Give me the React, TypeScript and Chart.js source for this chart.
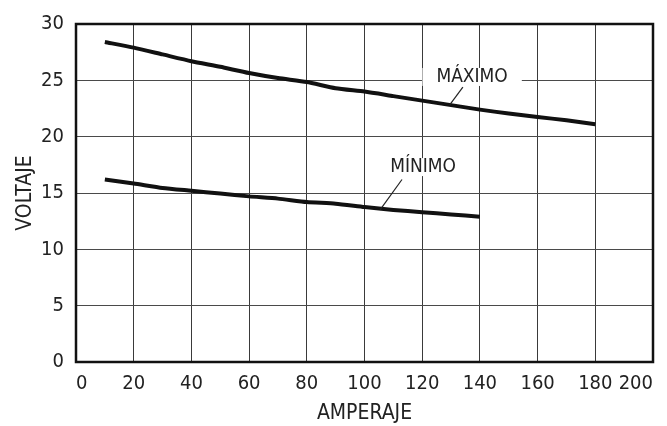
import React, { useEffect, useRef } from "react";
import { Chart, registerables } from "chart.js";

Chart.register(...registerables);

const maxAmps = [10, 20, 30, 40, 50, 60, 70, 80, 90, 100, 110, 120, 130, 140, 150, 160, 170, 180];
const maxVolts = [28.4, 27.9, 27.3, 26.7, 26.2, 25.65, 25.2, 24.85, 24.3, 24.0, 23.6, 23.2, 22.8, 22.4, 22.05, 21.75, 21.45, 21.1];
const minAmps = [10, 20, 30, 40, 50, 60, 70, 80, 90, 100, 110, 120, 130, 140];
const minVolts = [16.2, 15.85, 15.45, 15.2, 14.95, 14.7, 14.5, 14.2, 14.05, 13.75, 13.5, 13.3, 13.1, 12.9];
const xTicks = [0, 20, 40, 60, 80, 100, 120, 140, 160, 180, 200];
const yTicks = [0, 5, 10, 15, 20, 25, 30];

const FONT = "'DejaVu Sans Condensed', 'Liberation Sans', sans-serif";

const callouts = [
  { text: "MÁXIMO", tx: 137.3, ty: 25.3, lx1: 134.1, ly1: 24.4, lx2: 129.6, ly2: 22.85 },
  { text: "MÍNIMO", tx: 120.3, ty: 17.3, lx1: 113, ly1: 16.2, lx2: 105.4, ly2: 13.5 },
];

const calloutPlugin = {
  id: "callouts",
  afterDatasetsDraw(chart: any) {
    const { ctx, scales, chartArea } = chart;
    const xs = scales.x;
    const ys = scales.y;
    ctx.save();
    ctx.font = `19px ${FONT}`;
    ctx.textAlign = "center";
    ctx.textBaseline = "middle";
    for (const c of callouts) {
      const px = xs.getPixelForValue(c.tx);
      const py = ys.getPixelForValue(c.ty);
      const w = ctx.measureText(c.text).width;
      ctx.fillStyle = "#ffffff";
      ctx.fillRect(px - w / 2 - 14, py - 9, w + 28, 18);
      ctx.fillStyle = "#222222";
      ctx.fillText(c.text, px, py);
      ctx.strokeStyle = "#222222";
      ctx.lineWidth = 1.2;
      ctx.beginPath();
      ctx.moveTo(xs.getPixelForValue(c.lx1), ys.getPixelForValue(c.ly1));
      ctx.lineTo(xs.getPixelForValue(c.lx2), ys.getPixelForValue(c.ly2));
      ctx.stroke();
    }
    ctx.strokeStyle = "#111111";
    ctx.lineWidth = 2.5;
    ctx.strokeRect(
      chartArea.left,
      chartArea.top,
      chartArea.right - chartArea.left,
      chartArea.bottom - chartArea.top
    );
    ctx.restore();
  },
};

export default function App() {
  const ref = useRef<HTMLCanvasElement | null>(null);
  useEffect(() => {
    if (!ref.current) return;
    const chart = new Chart(ref.current, {
      type: "line",
      data: {
        datasets: [
          {
            label: "MÁXIMO",
            data: maxAmps.map((a, i) => ({ x: a, y: maxVolts[i] })),
            borderColor: "#111111",
            borderWidth: 4,
            pointRadius: 0,
            tension: 0.2,
          },
          {
            label: "MÍNIMO",
            data: minAmps.map((a, i) => ({ x: a, y: minVolts[i] })),
            borderColor: "#111111",
            borderWidth: 4,
            pointRadius: 0,
            tension: 0.2,
          },
        ],
      },
      options: {
        animation: false,
        responsive: false,
        maintainAspectRatio: false,
        layout: { padding: { top: 23, right: 14, left: 0, bottom: 0 } },
        plugins: { legend: { display: false }, tooltip: { enabled: false } },
        scales: {
          x: {
            type: "linear",
            min: 0,
            max: 200,
            afterBuildTicks: (s: any) => {
              s.ticks = xTicks.map((v) => ({ value: v }));
            },
            afterFit: (s: any) => {
              s.height = 64;
              s.paddingRight = 0;
              s.paddingLeft = 0;
            },
            grid: { color: "#3a3a3a", lineWidth: 1, drawTicks: false },
            border: { display: false },
            ticks: {
              color: "#222222",
              font: { family: FONT, size: 20 },
              padding: 10,
              maxRotation: 0,
              autoSkip: false,
              align: "inner",
            },
            title: {
              display: true,
              text: "AMPERAJE",
              color: "#222222",
              font: { family: FONT, size: 21 },
              padding: { top: 0, bottom: 0 },
            },
          },
          y: {
            type: "linear",
            min: 0,
            max: 30,
            afterBuildTicks: (s: any) => {
              s.ticks = yTicks.map((v) => ({ value: v }));
            },
            afterFit: (s: any) => {
              s.width = 76;
            },
            grid: { color: "#4a4a4a", lineWidth: 1, drawTicks: false },
            border: { display: false },
            ticks: {
              color: "#222222",
              font: { family: FONT, size: 20 },
              padding: 12,
              autoSkip: false,
            },
            title: {
              display: true,
              text: "VOLTAJE",
              color: "#222222",
              font: { family: FONT, size: 21 },
              padding: { top: 13, bottom: 0 },
            },
          },
        },
      },
      plugins: [calloutPlugin],
    } as any);
    return () => chart.destroy();
  }, []);
  return (
    <div style={{ position: "absolute", left: 0, top: 0, width: 667, height: 426, background: "#fff" }}>
      <canvas ref={ref} width={667} height={426} style={{ width: 667, height: 426 }} />
    </div>
  );
}
